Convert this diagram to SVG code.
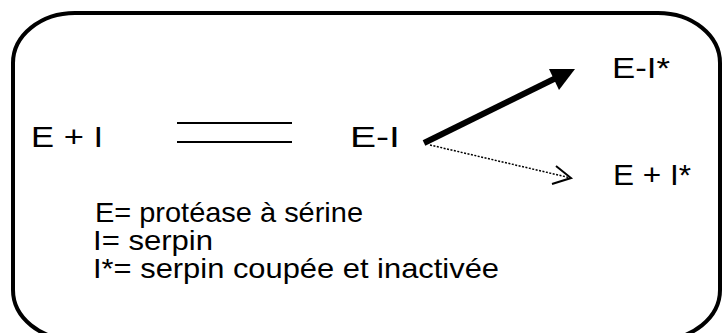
<svg xmlns="http://www.w3.org/2000/svg" width="722" height="333" viewBox="0 0 722 333">
<style>
  text { font-family: "Liberation Sans", Arial, sans-serif; fill: #000; }
  .lbl { font-size: 30px; }
  .leg { font-size: 28px; }
  .box { fill: #fff; stroke: #000; stroke-width: 4; }
  .eq { stroke: #000; stroke-width: 2; }
</style>
<rect width="722" height="333" fill="#fff"/>
<g id="frame"><rect class="box" x="13" y="13" width="707" height="327" rx="62" ry="50"/></g>
<g id="node-EI-free"><text class="lbl" x="31" y="147" textLength="72" lengthAdjust="spacingAndGlyphs">E + I</text></g>
<g id="node-EI-complex"><text class="lbl" x="350" y="147" textLength="50" lengthAdjust="spacingAndGlyphs">E-I</text></g>
<g id="node-EIstar"><text class="lbl" x="612" y="78" textLength="58" lengthAdjust="spacingAndGlyphs">E-I*</text></g>
<g id="node-EplusIstar"><text class="lbl" x="613" y="185" textLength="78" lengthAdjust="spacingAndGlyphs">E + I*</text></g>
<g id="legend">
  <text class="leg" x="95" y="222" textLength="268" lengthAdjust="spacingAndGlyphs">E= protéase à sérine</text>
  <text class="leg" x="93" y="250" textLength="120" lengthAdjust="spacingAndGlyphs">I= serpin</text>
  <text class="leg" x="93" y="278" textLength="406" lengthAdjust="spacingAndGlyphs">I*= serpin coupée et inactivée</text>
</g>
<g id="connectors">
  <line class="eq" x1="177" y1="123" x2="292" y2="123"/>
  <line class="eq" x1="177" y1="142" x2="292" y2="142"/>
  <line x1="424" y1="143" x2="556" y2="78" stroke="#000" stroke-width="6"/>
  <polygon points="575,69 549,69 559,90" fill="#000"/>
  <line x1="430" y1="145" x2="571" y2="178" stroke="#000" stroke-width="1.5" stroke-dasharray="2,1.5"/>
  <polyline points="556,166 571,178 552,184" fill="none" stroke="#000" stroke-width="2"/>
</g>
</svg>
